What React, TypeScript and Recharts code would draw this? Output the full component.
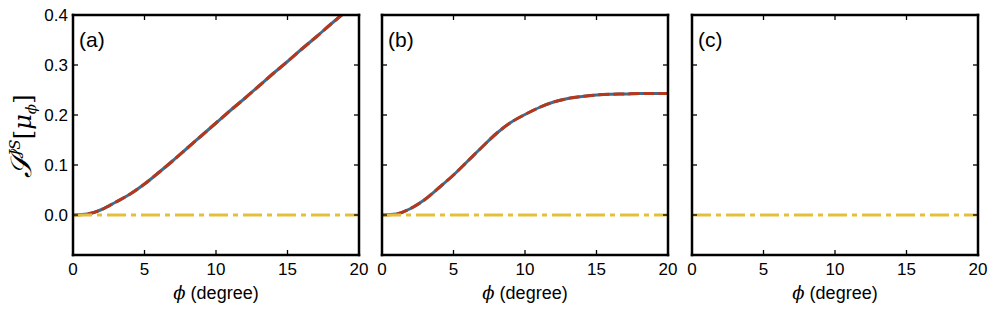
import React from 'react';
import { LineChart, Line, XAxis, YAxis, Customized } from 'recharts';

const phi = [0, 1, 2, 3, 4, 5, 6, 7, 8, 9, 10, 11, 12, 13, 14, 15, 16, 17, 18, 19, 20];
const panelA = [0, 0.002, 0.011, 0.026, 0.042, 0.062, 0.085, 0.109, 0.134, 0.159, 0.184, 0.209, 0.233, 0.258, 0.283, 0.307, 0.332, 0.356, 0.381, 0.405, 0.43];
const panelB = [0, 0.002, 0.013, 0.031, 0.055, 0.08, 0.108, 0.136, 0.163, 0.185, 0.201, 0.215, 0.226, 0.233, 0.237, 0.24, 0.2415, 0.242, 0.243, 0.243, 0.243];
const baseline = [0, 0, 0, 0, 0, 0, 0, 0, 0, 0, 0, 0, 0, 0, 0, 0, 0, 0, 0, 0, 0];
const xTicks = [0, 5, 10, 15, 20];
const yTicks = [0, 0.1, 0.2, 0.3, 0.4];
const panelLabels = ['(a)', '(b)', '(c)'];
const xLabelSymbol = 'ϕ';
const xLabelText = ' (degree)';

const BLUE = '#3c6e91';
const RED = '#b5381c';
const YELLOW = '#e4bf3c';
const FONT = '"Liberation Sans", Arial, sans-serif';
const MATH = "'DejaVu Serif', serif";

const PLOT_W = 286;
const AXIS_STYLE = { stroke: '#000', strokeWidth: 2.5, strokeLinecap: 'square' as const };
const TICK_LINE = { stroke: '#000', strokeWidth: 1.3 };

type PanelProps = {
  left: number;
  svgWidth: number;
  plotLeft: number;
  curve: number[] | null;
  label: string;
  showYLabels: boolean;
};

function Panel({ left, svgWidth, plotLeft, curve, label, showYLabels }: PanelProps) {
  const data = phi.map((p, i) => ({
    phi: p,
    curve: curve ? curve[i] : null,
    base: baseline[i],
  }));
  const yAxisW = 50;
  const margin = {
    left: plotLeft - yAxisW,
    right: svgWidth - plotLeft - PLOT_W - 5,
    top: 10,
    bottom: 314 - 255 - 40,
  };
  const cx = plotLeft + PLOT_W / 2;
  return (
    <div style={{ position: 'absolute', left, top: 0 }}>
      <LineChart width={svgWidth} height={314} data={data} margin={margin}>
        <XAxis
          dataKey="phi"
          type="number"
          domain={[0, 20]}
          ticks={xTicks}
          height={40}
          axisLine={AXIS_STYLE}
          tickLine={TICK_LINE}
          tickSize={-5}
          tickMargin={13}
          tick={{ fill: '#000', fontSize: 17, fontFamily: FONT }}
        />
        <XAxis
          xAxisId="top"
          orientation="top"
          dataKey="phi"
          type="number"
          domain={[0, 20]}
          ticks={xTicks}
          height={5}
          axisLine={AXIS_STYLE}
          tickLine={TICK_LINE}
          tickSize={-5}
          tickFormatter={() => ''}
        />
        <YAxis
          type="number"
          domain={[-0.08, 0.4]}
          ticks={yTicks}
          allowDataOverflow
          width={yAxisW}
          axisLine={AXIS_STYLE}
          tickLine={TICK_LINE}
          tickSize={-5}
          tickMargin={10}
          tick={{ fill: '#000', fontSize: 17, fontFamily: FONT }}
          tickFormatter={(v: number) => (showYLabels ? v.toFixed(1) : '')}
        />
        <YAxis
          yAxisId="right"
          orientation="right"
          type="number"
          domain={[-0.08, 0.4]}
          ticks={yTicks}
          allowDataOverflow
          width={5}
          axisLine={AXIS_STYLE}
          tickLine={TICK_LINE}
          tickSize={-5}
          tickFormatter={() => ''}
        />
        {curve && (
          <Line type="monotone" dataKey="curve" stroke={BLUE} strokeWidth={3} dot={false} isAnimationActive={false} />
        )}
        {curve && (
          <Line type="monotone" dataKey="curve" stroke={RED} strokeWidth={3} strokeDasharray="11 4" dot={false} isAnimationActive={false} />
        )}
        <Line type="linear" dataKey="base" stroke={YELLOW} strokeWidth={3} strokeDasharray="19 5 5 5" dot={false} isAnimationActive={false} />
        <Customized
          component={() => (
            <g>
              <text x={plotLeft + 6} y={47} fontSize={21} fontFamily={FONT} fill="#000">
                {label}
              </text>
              <text x={cx} y={299} textAnchor="middle" fontSize={18} fontFamily={FONT} fill="#000">
                <tspan fontFamily={MATH} fontStyle="italic">{xLabelSymbol}</tspan>
                <tspan>{xLabelText}</tspan>
              </text>
            </g>
          )}
        />
        {showYLabels && (
          <Customized
            component={() => (
              <text transform="translate(31,136) rotate(-90)" textAnchor="middle" fontFamily={FONT} fill="#000" fontSize={24}>
                <tspan fontFamily={MATH} fontStyle="italic" fontSize={29}>𝒮</tspan>
                <tspan fontSize={15} fontFamily={MATH} fontStyle="italic" dy={-11}>JS</tspan>
                <tspan dy={11} fontSize={25} fontFamily={MATH}>[</tspan>
                <tspan fontStyle="italic" fontFamily={MATH}>μ</tspan>
                <tspan fontStyle="italic" fontSize={15} dy={5} fontFamily={MATH}>ϕ</tspan>
                <tspan dy={-5} fontSize={25} fontFamily={MATH}>]</tspan>
              </text>
            )}
          />
        )}
      </LineChart>
    </div>
  );
}

export default function App() {
  return (
    <div style={{ position: 'absolute', left: 0, top: 0, width: 996, height: 314, background: '#fff', fontFamily: FONT }}>
      <Panel left={0} svgWidth={370} plotLeft={73} curve={panelA} label={panelLabels[0]} showYLabels />
      <Panel left={330} svgWidth={350} plotLeft={52} curve={panelB} label={panelLabels[1]} showYLabels={false} />
      <Panel left={640} svgWidth={356} plotLeft={52} curve={null} label={panelLabels[2]} showYLabels={false} />
    </div>
  );
}
